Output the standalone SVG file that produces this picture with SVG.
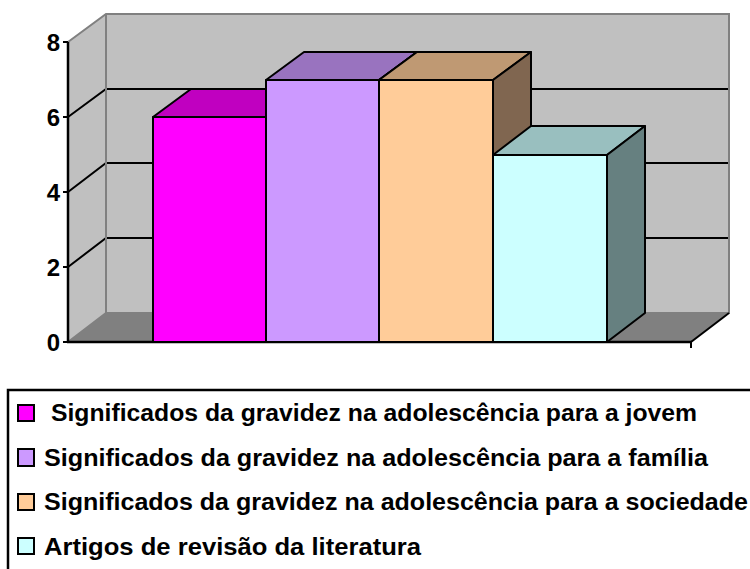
<svg xmlns="http://www.w3.org/2000/svg" width="750" height="569" viewBox="0 0 750 569">
<style>
.wall{fill:#C0C0C0;stroke:none}
.edge{stroke:#808080;stroke-width:2;fill:none}
.grid{stroke:#000;stroke-width:2;fill:none}
.bar{stroke:#000;stroke-width:2;stroke-linejoin:round}
.ax{font-family:"Liberation Sans",Arial,sans-serif;font-weight:bold;font-size:24px;fill:#000;text-anchor:end}
.lg{font-family:"Liberation Sans",Arial,sans-serif;font-weight:bold;font-size:23.5px;fill:#000}
.mk{stroke:#000;stroke-width:2}
</style>
<rect width="750" height="569" fill="#fff"/>
<g id="plot-area">
<polygon class="wall" points="106,14 729,14 729,313 106,313"/>
<polygon class="wall" points="68,42 106,14 106,313 68,342"/>
<polygon points="68,342 106,313 729,313 691,342" fill="#808080"/>
<g class="grid">
<polyline points="68,117 106,89 729,89"/>
<polyline points="68,192 106,163 729,163"/>
<polyline points="68,267 106,238 729,238"/>
</g>
<g class="edge">
<polyline points="68,42 106,14 729,14 729,313 106,313 68,342"/>
<line x1="106" y1="14" x2="106" y2="313"/>
</g>
<line x1="691" y1="342" x2="729" y2="313" stroke="#000" stroke-width="2"/>
</g>
<g id="axis">
<line x1="68" y1="42" x2="68" y2="343" stroke="#000" stroke-width="2.5"/>
<line x1="67" y1="342" x2="692" y2="342" stroke="#000" stroke-width="2.5"/>
<line x1="691" y1="342" x2="691" y2="348" stroke="#000" stroke-width="2"/>
<g stroke="#000" stroke-width="2">
<line x1="63" y1="42" x2="68" y2="42"/>
<line x1="63" y1="117" x2="68" y2="117"/>
<line x1="63" y1="192" x2="68" y2="192"/>
<line x1="63" y1="267" x2="68" y2="267"/>
<line x1="63" y1="342" x2="68" y2="342"/>
</g>
<text class="ax" x="60" y="51">8</text>
<text class="ax" x="60" y="126">6</text>
<text class="ax" x="60" y="201">4</text>
<text class="ax" x="60" y="276">2</text>
<text class="ax" x="60" y="351">0</text>
</g>
<g id="bar-jovem">
<polygon class="bar" fill="#C000C0" points="153,117 191,89 304,89 266,117"/>
<polygon class="bar" fill="#800080" points="266,117 304,89 304,313 266,342"/>
<rect class="bar" fill="#FF00FF" x="153" y="117" width="113" height="225"/>
</g>
<g id="bar-familia">
<polygon class="bar" fill="#9973BF" points="266,80 304,52 417,52 379,80"/>
<polygon class="bar" fill="#664D80" points="379,80 417,52 417,313 379,342"/>
<rect class="bar" fill="#CC99FF" x="266" y="80" width="113" height="262"/>
</g>
<g id="bar-sociedade">
<polygon class="bar" fill="#BF9973" points="379,80 417,52 531,52 493,80"/>
<polygon class="bar" fill="#806650" points="493,80 531,52 531,313 493,342"/>
<rect class="bar" fill="#FFCC99" x="379" y="80" width="114" height="262"/>
</g>
<g id="bar-revisao">
<polygon class="bar" fill="#99BFBF" points="493,155 531,126 645,126 607,155"/>
<polygon class="bar" fill="#668080" points="607,155 645,126 645,313 607,342"/>
<rect class="bar" fill="#CCFFFF" x="493" y="155" width="114" height="187"/>
</g>
<g id="legend">
<rect x="8" y="390" width="745" height="185" fill="none" stroke="#000" stroke-width="2.5"/>
<rect class="mk" x="18" y="405" width="16" height="16" fill="#FF00FF"/>
<rect class="mk" x="18" y="449" width="16" height="17" fill="#CC99FF"/>
<rect class="mk" x="18" y="494" width="16" height="16" fill="#FFCC99"/>
<rect class="mk" x="18" y="538" width="16" height="16" fill="#CCFFFF"/>
<text class="lg" x="51" y="421" textLength="646" lengthAdjust="spacingAndGlyphs">Significados da gravidez na adolescência para a jovem</text>
<text class="lg" x="44" y="466" textLength="664" lengthAdjust="spacingAndGlyphs">Significados da gravidez na adolescência para a família</text>
<text class="lg" x="44" y="510" textLength="704" lengthAdjust="spacingAndGlyphs">Significados da gravidez na adolescência para a sociedade</text>
<text class="lg" x="44" y="555" textLength="377" lengthAdjust="spacingAndGlyphs">Artigos de revisão da literatura</text>
</g>
</svg>
